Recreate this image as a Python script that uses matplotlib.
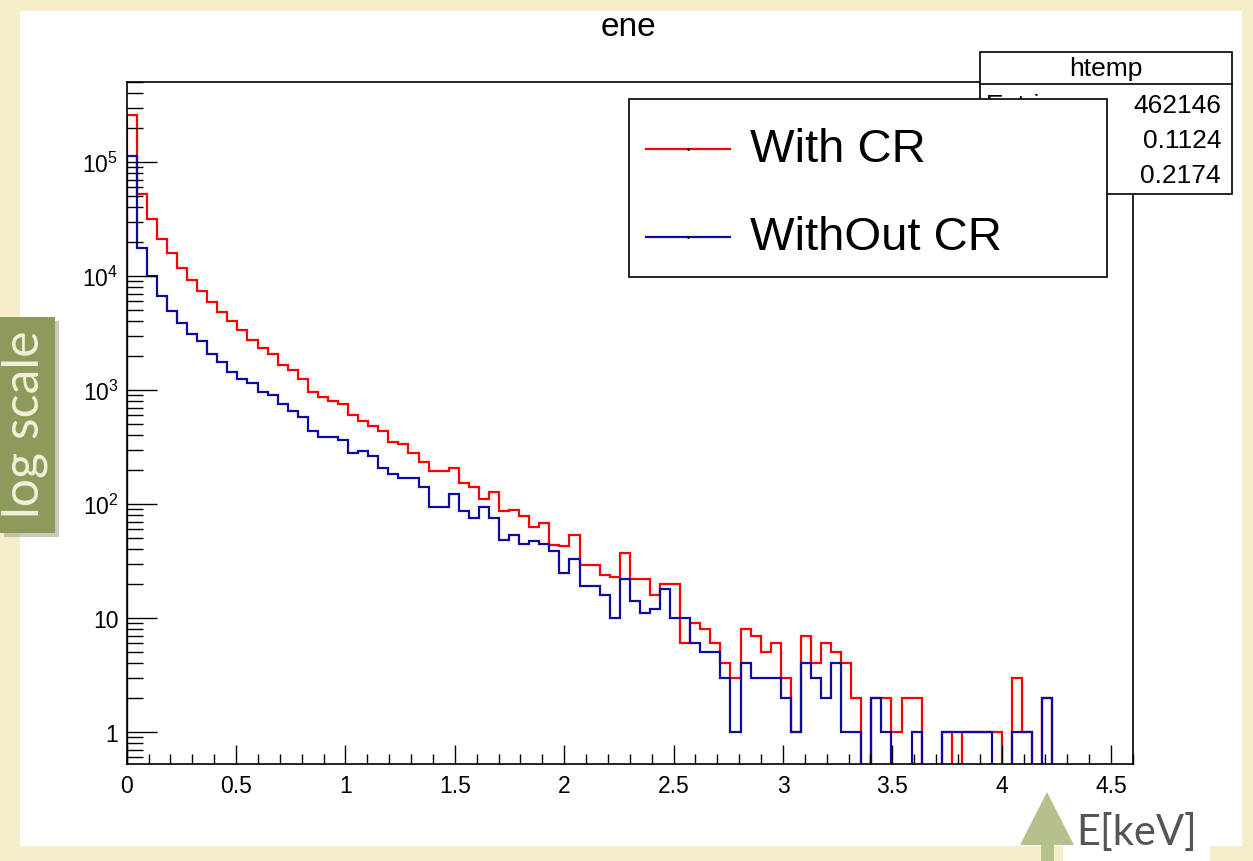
import numpy as np
import matplotlib
matplotlib.use('Agg')
import matplotlib.pyplot as plt
from matplotlib.patches import Rectangle, Polygon
from matplotlib.ticker import MultipleLocator, LogLocator, FuncFormatter, NullFormatter

# histogram definition (ROOT htemp, 100 bins)
x_min, x_max, n_bins = 0.0, 4.6, 100

with_cr = [260000, 52400, 31600, 21100, 15900, 11750, 9230, 7430, 5950, 4810,
           4010, 3340, 2760, 2320, 2070, 1660, 1510, 1250, 966, 876,
           805, 756, 605, 538, 486, 437, 350, 338, 282, 235,
           196, 196, 205, 152, 142, 111, 127, 86, 89, 79,
           63, 68, 44, 43, 53, 29, 29, 24, 23, 37,
           22, 22, 16, 20, 20, 6, 9, 8, 6, 4,
           3, 8, 7, 5, 6, 3, 1, 7, 4, 6,
           5, 4, 2, 0, 2, 2, 1, 2, 2, 0,
           0, 1, 0, 1, 1, 1, 1, 0, 3, 1,
           0, 2, 0, 0, 0, 0, 0, 0, 0, 0]

without_cr = [113600, 17600, 9940, 6640, 4960, 3850, 3100, 2670, 2070, 1770,
              1440, 1250, 1150, 960, 897, 755, 650, 580, 437, 389,
              390, 364, 282, 293, 262, 205, 182, 170, 170, 142,
              95, 95, 122, 86, 76, 94, 75, 48, 53, 45,
              47, 45, 39, 25, 33, 19, 19, 16, 10, 22,
              14, 11, 12, 18, 10, 10, 6, 5, 5, 3,
              1, 4, 3, 3, 3, 2, 1, 4, 3, 2,
              4, 1, 1, 0, 2, 1, 0, 0, 1, 0,
              0, 1, 1, 1, 1, 1, 0, 0, 1, 1,
              0, 2, 0, 0, 0, 0, 0, 0, 0, 0]

legend_labels = ['With CR', 'WithOut CR']
stats_name = 'htemp'
stats_rows = [('Entries', '462146'), ('Mean', '0.1124'), ('Std Dev', '0.2174')]

plt.rcParams['font.family'] = ['Liberation Sans', 'DejaVu Sans']
plt.rcParams['mathtext.fontset'] = 'custom'
plt.rcParams['mathtext.rm'] = 'Liberation Sans'
plt.rcParams['mathtext.it'] = 'Liberation Sans:italic'
plt.rcParams['mathtext.bf'] = 'Liberation Sans:bold'

W, H = 1253, 862
fig = plt.figure(figsize=(W / 100, H / 100), dpi=100, facecolor='#f6eecb')


def fig_box(x0, y0, x1, y1):
    return [x0 / W, 1 - y1 / H, (x1 - x0) / W, (y1 - y0) / H]


# white canvas behind the ROOT plot
bg = fig.add_axes([0, 0, 1, 1], zorder=0)
bg.set_xlim(0, W)
bg.set_ylim(H, 0)
bg.axis('off')
bg.add_patch(Rectangle((20, 12), 1222, 835, facecolor='white', edgecolor='none'))

# main histogram axes
ax = fig.add_axes(fig_box(126.7, 83, 1133, 765), zorder=1)
edges = np.linspace(x_min, x_max, n_bins + 1)
ax.stairs(with_cr, edges, color='#ff0000', lw=1.6)
ax.stairs(without_cr, edges, color='#0c0ca0', lw=1.6)

ax.set_yscale('log')
ax.set_xlim(x_min, x_max)
ax.set_ylim(0.524, 5.03e5)

ax.xaxis.set_major_locator(MultipleLocator(0.5))
ax.xaxis.set_minor_locator(MultipleLocator(0.1))
ax.xaxis.set_major_formatter(FuncFormatter(lambda v, p: f'{v:g}'))
ax.yaxis.set_major_locator(LogLocator(base=10, numticks=12))
ax.yaxis.set_minor_locator(LogLocator(base=10, subs=np.arange(2, 10), numticks=12))
ax.yaxis.set_minor_formatter(NullFormatter())


def ylab(v, p):
    n = int(round(np.log10(v)))
    if n == 0:
        return '1'
    if n == 1:
        return '10'
    return r'$10^{%d}$' % n


ax.yaxis.set_major_formatter(FuncFormatter(ylab))
ax.tick_params(which='both', direction='in', top=False, right=False, width=1, color='black')
ax.tick_params(axis='x', which='major', length=14, pad=7, labelsize=16.5)
ax.tick_params(axis='x', which='minor', length=7.5)
ax.tick_params(axis='y', which='major', length=21.5, pad=6, labelsize=16.5)
ax.tick_params(axis='y', which='minor', length=11.5)
for s in ax.spines.values():
    s.set_linewidth(1.2)

fig.text(628 / W, 1 - 27 / H, 'ene', ha='center', va='center', fontsize=24)

# overlay for stats box, legend and slide annotations
ov = fig.add_axes([0, 0, 1, 1], zorder=2)
ov.set_xlim(0, W)
ov.set_ylim(H, 0)
ov.axis('off')

# stats box
ov.add_patch(Rectangle((980, 53), 252, 142, facecolor='white', edgecolor='black', lw=1.2, zorder=2))
ov.plot([980, 1232], [85, 85], color='black', lw=1.2, zorder=2)
ov.text(1106, 69, stats_name, ha='center', va='center', fontsize=19, zorder=2)
for i, (name, val) in enumerate(stats_rows):
    yy = 106 + i * 35
    ov.text(986, yy, name, ha='left', va='center', fontsize=19, zorder=2)
    ov.text(1221, yy, val, ha='right', va='center', fontsize=19, zorder=2)

# legend
ov.add_patch(Rectangle((629, 100), 478, 178, facecolor='white', edgecolor='black', lw=1.2, zorder=3))
for i, (lab, col) in enumerate(zip(legend_labels, ['#ff0000', '#0c0ca0'])):
    yy = 150 + i * 88
    ov.plot([646, 730], [yy, yy], color=col, lw=1.6, zorder=4)
    ov.plot([688], [yy], 'k.', ms=2, zorder=4)
    ov.text(750, yy, lab, ha='left', va='center', fontsize=34, zorder=4)

# "log scale" tag
ov.add_patch(Rectangle((4, 322), 55, 216, facecolor='#9a9278', edgecolor='none', alpha=0.5, zorder=2))
ov.add_patch(Rectangle((0, 318), 55, 216, facecolor='#8c9a5c', edgecolor='none', zorder=3))
ov.text(25, 424, 'log scale', rotation=90, ha='center', va='center', fontsize=36,
        color='#f3efd8', family=['Lato', 'DejaVu Sans'], zorder=4)

# E[keV] arrow
ov.add_patch(Rectangle((1063, 800), 147, 62, facecolor='white', edgecolor='none', zorder=2))
ov.add_patch(Polygon([(1047, 793), (1020, 846), (1074, 846)], closed=True,
                     facecolor='#b4c18c', edgecolor='none', zorder=3))
ov.add_patch(Rectangle((1041, 845), 13, 17, facecolor='#b4c18c', edgecolor='none', zorder=3))
ov.text(1076, 833, 'E[keV]', ha='left', va='center', fontsize=30, color='#555555',
        family=['Lato', 'DejaVu Sans'], zorder=4)

fig.savefig('out.png', dpi=100, facecolor=fig.get_facecolor())
